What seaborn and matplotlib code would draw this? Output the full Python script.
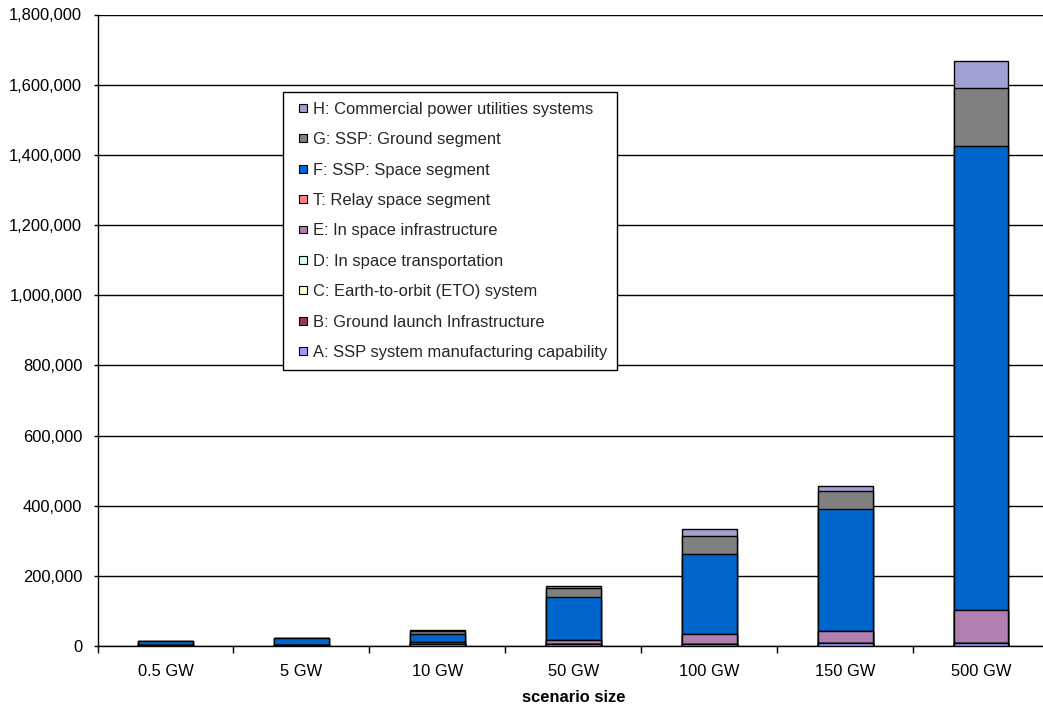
import matplotlib
matplotlib.use("Agg")
import matplotlib.pyplot as plt
import seaborn as sns
import numpy as np
from matplotlib.patches import Patch, Rectangle
from matplotlib.legend_handler import HandlerPatch
from matplotlib.ticker import FuncFormatter, FixedLocator, MultipleLocator

# Scenario sizes and cost components (stacked bottom to top: A, B, C, D, E, T, F, G, H)
scenarios = ["0.5 GW", "5 GW", "10 GW", "50 GW", "100 GW", "150 GW", "500 GW"]
seg_a = [1500, 2000, 5000, 6000, 6500, 8000, 8500]
seg_b = [0, 0, 0, 0, 0, 0, 0]
seg_c = [0, 0, 0, 0, 0, 0, 0]
seg_d = [0, 0, 0, 0, 0, 0, 0]
seg_e = [500, 1000, 6000, 12000, 26500, 35500, 94000]
seg_t = [0, 0, 0, 0, 0, 0, 0]
seg_f = [13000, 18500, 24000, 120800, 230000, 347100, 1322500]
seg_g = [500, 2500, 7000, 26600, 50600, 50400, 166500]
seg_h = [0, 0, 4000, 6600, 19100, 16000, 76500]

labels = [
    "A: SSP system manufacturing capability",
    "B: Ground launch Infrastructure",
    "C: Earth-to-orbit (ETO) system",
    "D: In space transportation",
    "E: In space infrastructure",
    "T: Relay space segment",
    "F: SSP: Space segment",
    "G: SSP: Ground segment",
    "H: Commercial power utilities systems",
]
colors = ["#9999FF", "#993366", "#FFFFCC", "#CCFFFF", "#B07FB0",
          "#FF8080", "#0066CC", "#808080", "#A0A0D2"]
segments = [seg_a, seg_b, seg_c, seg_d, seg_e, seg_t, seg_f, seg_g, seg_h]

sns.set_theme(style="white")
plt.rcParams["font.family"] = ["Liberation Sans", "DejaVu Sans"]
FS = 11.9

W, H = 1043, 709
fig = plt.figure(figsize=(W / 100, H / 100), dpi=100)
ax = fig.add_axes([97.5 / W, (H - 646) / H, (1049 - 97.5) / W, (646 - 14.5) / H])

# Stack by overdrawing cumulative totals, tallest first
cum = np.cumsum(np.array(segments, dtype=float), axis=0)
for i in range(len(segments) - 1, -1, -1):
    sns.barplot(x=scenarios, y=cum[i], order=scenarios, color=colors[i],
                saturation=1, width=0.404, edgecolor="black", linewidth=1.0,
                errorbar=None, ax=ax, zorder=3)

ax.set_xlim(-0.5, len(scenarios) - 0.5)
ax.set_ylim(0, 1_800_000)
ax.yaxis.set_major_locator(MultipleLocator(200_000))
ax.yaxis.set_major_formatter(FuncFormatter(lambda v, p: f"{v:,.0f}"))
ax.yaxis.grid(True, color="black", linewidth=1.0)
ax.xaxis.grid(False)
ax.set_axisbelow(True)

for side in ("top", "right"):
    ax.spines[side].set_visible(False)
for side in ("left", "bottom"):
    ax.spines[side].set_color("black")
    ax.spines[side].set_linewidth(1.0)

ax.tick_params(axis="y", which="major", direction="out", length=3, width=1,
               color="black", pad=8, labelsize=FS, labelcolor="black", left=True)
ax.xaxis.set_minor_locator(FixedLocator(np.arange(-0.5, len(scenarios), 1.0)))
ax.tick_params(axis="x", which="major", length=0, pad=13, labelsize=FS,
               labelcolor="black")
ax.tick_params(axis="x", which="minor", direction="out", length=5, width=1,
               color="black", bottom=True)

ax.set_xlabel("scenario size", fontsize=FS, fontweight="bold", labelpad=8,
              color="black")
ax.set_ylabel("")


def small_square(legend, orig_handle, xdescent, ydescent, width, height, fontsize):
    # square swatch sitting at the right end of the handle box
    s = 0.48 * fontsize
    return Rectangle((-xdescent + width - s, -ydescent + (height - s) / 2), s, s)


handles = [Patch(facecolor=colors[i], edgecolor="black", linewidth=0.8,
                 label=labels[i]) for i in range(len(labels) - 1, -1, -1)]
leg = fig.legend(handles=handles, loc="upper left",
                 bbox_to_anchor=(283 / W, 1 - 92 / H), borderaxespad=0,
                 fontsize=FS, frameon=True, fancybox=False, shadow=False,
                 edgecolor="black", framealpha=1, handlelength=0.85,
                 handleheight=0.5, handletextpad=0.35, labelspacing=0.93,
                 borderpad=0.6,
                 handler_map={Patch: HandlerPatch(patch_func=small_square)})
leg.get_frame().set_linewidth(1.0)

fig.savefig("out.png", dpi=100)
